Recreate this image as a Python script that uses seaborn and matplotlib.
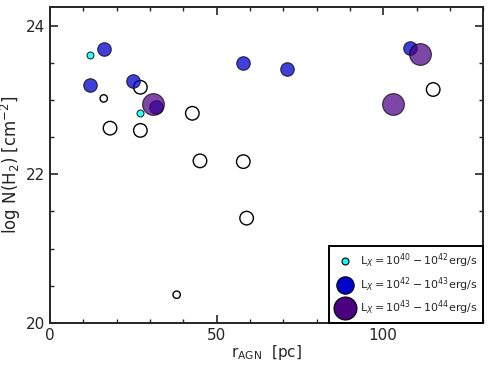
import matplotlib
matplotlib.use("Agg")
import matplotlib.pyplot as plt
from matplotlib.lines import Line2D
from matplotlib.ticker import MultipleLocator
import seaborn as sns
import pandas as pd

# data
white_x = [16.1, 38.0, 27.1, 42.7, 18.0, 27.1, 45.0, 58.0, 59.0, 115.0]
white_y = [23.02, 20.38, 23.17, 22.82, 22.62, 22.59, 22.18, 22.17, 21.41, 23.14]
white_size = ["small", "small", "big", "big", "big", "big", "big", "big", "big", "big"]

cyan_x = [12.0, 27.1]
cyan_y = [23.61, 22.82]

blue_x = [16.2, 12.0, 25.0, 58.0, 71.0, 108.0, 31.8]
blue_y = [23.68, 23.20, 23.26, 23.49, 23.41, 23.70, 22.91]

purple_x = [31.0, 103.0, 111.0]
purple_y = [22.94, 22.95, 23.62]

legend_labels = [r"L$_X = 10^{40}-10^{42}$erg/s",
                 r"L$_X = 10^{42}-10^{43}$erg/s",
                 r"L$_X = 10^{43}-10^{44}$erg/s"]

sns.set_style("ticks")
plt.rcParams["font.family"] = ["DejaVu Sans"]

fig = plt.figure(figsize=(4.91, 3.67), dpi=100)
ax = fig.add_axes([0.102, 0.120, 0.882, 0.861])

wdf = pd.DataFrame({"x": white_x, "y": white_y, "s": white_size})
sns.scatterplot(data=wdf, x="x", y="y", size="s", sizes={"small": 28, "big": 95},
                color="white", edgecolor="black", linewidth=1.0, ax=ax, legend=False, zorder=2)
sns.scatterplot(x=cyan_x, y=cyan_y, s=25, color="cyan", edgecolor="black",
                linewidth=0.8, alpha=0.8, ax=ax, legend=False, zorder=3)
sns.scatterplot(x=blue_x, y=blue_y, s=95, color="mediumblue", edgecolor="black",
                linewidth=0.8, alpha=0.75, ax=ax, legend=False, zorder=4)
sns.scatterplot(x=purple_x, y=purple_y, s=245, color="indigo", edgecolor="black",
                linewidth=0.8, alpha=0.72, ax=ax, legend=False, zorder=5)

ax.set_xlim(0, 130)
ax.set_ylim(20, 24.25)
ax.set_xticks([0, 50, 100])
ax.set_yticks([20, 22, 24])
ax.xaxis.set_minor_locator(MultipleLocator(10))
ax.yaxis.set_minor_locator(MultipleLocator(0.5))
ax.tick_params(which="both", direction="in", top=True, right=True, labelsize=11)
ax.tick_params(which="major", length=6, width=1.2)
ax.tick_params(which="minor", length=3, width=1.0)
for sp in ax.spines.values():
    sp.set_linewidth(1.4)

ax.set_xlabel(r"r$_{\rm AGN}$  [pc]", fontsize=11, labelpad=0)
ax.set_ylabel(r"log N(H$_2$) [cm$^{-2}$]", fontsize=12, labelpad=2)

handles = [
    Line2D([], [], marker="o", linestyle="none", markersize=5, markerfacecolor="cyan",
           markeredgecolor="black", markeredgewidth=0.8),
    Line2D([], [], marker="o", linestyle="none", markersize=12.5, markerfacecolor="mediumblue",
           markeredgecolor="black", markeredgewidth=0.8),
    Line2D([], [], marker="o", linestyle="none", markersize=16.5, markerfacecolor="indigo",
           markeredgecolor="black", markeredgewidth=0.8),
]
leg = ax.legend(handles, legend_labels, loc="lower right", borderaxespad=0, fontsize=8,
                fancybox=False, framealpha=1, edgecolor="black", labelspacing=0.45,
                handletextpad=0.3, borderpad=0.5, handlelength=2.0)
leg.get_frame().set_linewidth(1.4)
leg.set_zorder(10)

fig.savefig("out.png", dpi=100)
